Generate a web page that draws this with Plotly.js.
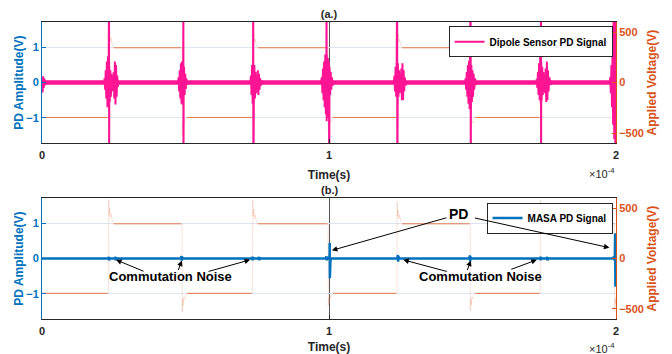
<!DOCTYPE html>
<html>
<head>
<meta charset="utf-8">
<script src="https://cdn.plot.ly/plotly-3.0.1.min.js"></script>
<style>html,body{margin:0;padding:0;background:#fff;}#chart{width:672px;height:354px;}</style>
</head>
<body>
<div id="chart"></div>
<script>
// ---------- DATA (time in units of 1e-4 s) ----------
// Applied voltage, steady levels (V), null = break at the switching edge
const voltT = [0, 0.229, null, 0.25, 0.485, null, 0.505, 0.731, null, 0.752, 0.994, null, 1.014, 1.234, null, 1.255, 1.489, null, 1.509, 1.733, null, 1.754, 1.992];
const voltV = [-345, -345, null, 345, 345, null, -345, -345, null, 345, 345, null, -345, -345, null, 345, 345, null, -345, -345, null, 345, 345];
// Applied voltage, switching edges with ringing (V)
const ringT = [0.229, 0.232, 0.2325, 0.234, 0.236, 0.238, 0.241, 0.245, 0.25, null,
               0.485, 0.488, 0.4885, 0.490, 0.492, 0.494, 0.497, 0.501, 0.505, null,
               0.731, 0.734, 0.7345, 0.736, 0.738, 0.740, 0.743, 0.747, 0.752, null,
               0.994, 0.997, 0.9975, 0.999, 1.001, 1.003, 1.006, 1.010, 1.014, null,
               1.234, 1.237, 1.2375, 1.239, 1.241, 1.243, 1.246, 1.250, 1.255, null,
               1.489, 1.492, 1.4925, 1.494, 1.496, 1.498, 1.501, 1.505, 1.509, null,
               1.733, 1.736, 1.7365, 1.738, 1.740, 1.742, 1.745, 1.749, 1.754, null,
               1.992, 1.995, 1.9955, 1.997, 1.999, 2.0];
const ringV = [-345, -345, 585, 430, 500, 410, 440, 370, 345, null,
               345, 345, -530, -400, -470, -380, -400, -360, -345, null,
               -345, -345, 580, 420, 490, 400, 430, 365, 345, null,
               345, 345, -470, -390, -440, -370, -390, -355, -345, null,
               -345, -345, 560, 420, 480, 400, 430, 370, 345, null,
               345, 345, -520, -400, -460, -380, -395, -360, -345, null,
               -345, -345, 575, 425, 495, 405, 435, 368, 345, null,
               345, 345, -500, -400, -450, -380];

// Dipole sensor PD signal (V): baseline band and discharge bursts
const dipoleBaseT = [0, 2];
const dipoleBaseV = [0, 0];
const dipoleT = [0, 0.002, 0.004, 0.006, 0.008, 0.010, 0.013, 0.016,
  0.216,0.218,0.220,0.222,0.224,0.226,0.228,0.230,0.232,0.2335,0.234,0.2345,0.236,0.238,0.240,0.242,0.244,0.246,0.248,0.250,0.252,0.254,0.256,0.258,0.260,0.262,0.264,0.266,
  0.474,0.476,0.478,0.480,0.482,0.484,0.486,0.488,0.490,0.492,0.4925,0.493,0.4935,0.495,0.497,0.499,0.501,0.503,0.505,0.508,
  0.726,0.728,0.730,0.732,0.734,0.7355,0.736,0.7365,0.738,0.740,0.742,0.744,0.746,0.748,0.750,0.752,0.754,0.756,0.758,0.760,0.763,0.767,0.771,
  0.972,0.975,0.977,0.979,0.981,0.983,0.985,0.987,0.989,0.991,0.9915,0.992,0.9925,0.994,0.996,0.998,1.000,1.0005,1.002,1.004,1.006,1.008,1.010,1.013,1.016,
  1.226,1.228,1.230,1.232,1.234,1.236,1.2375,1.238,1.2385,1.240,1.242,1.244,1.246,1.248,1.250,1.252,1.254,1.256,1.258,1.260,1.262,1.264,1.267,1.271,
  1.474,1.476,1.478,1.480,1.482,1.484,1.486,1.488,1.490,1.492,1.4935,1.494,1.4945,1.496,1.498,1.500,1.502,1.504,1.506,1.509,1.512,1.516,
  1.722,1.724,1.726,1.728,1.730,1.732,1.734,1.736,1.738,1.7385,1.739,1.7395,1.741,1.743,1.745,1.747,1.749,1.751,1.753,1.755,1.757,1.759,1.761,1.763,1.765,1.768,1.772,1.777,
  1.978,1.980,1.982,1.984,1.986,1.988,1.990,1.992,1.994,1.996,1.998,2.000];
const dipoleV = [0.05, -0.28, 0.18, -0.15, 0.12, -0.08, 0.05, 0,
  0,0.12,-0.2,0.35,-0.45,0.6,-0.7,0.75,-0.65,3,-3,0.45,-0.55,0.35,-0.4,0.25,-0.25,0.15,-0.2,0.3,-0.45,0.6,-0.62,0.5,-0.4,0.2,-0.12,0,
  0,0.15,-0.25,0.35,-0.45,0.55,-0.6,0.6,-0.63,0.55,3,-3,-0.5,0.45,-0.35,0.25,-0.18,0.12,-0.06,0,
  0,0.2,-0.35,0.5,-0.6,0.64,3,-3,-0.68,0.5,-0.45,0.3,-0.3,0.2,-0.25,0.35,-0.35,0.25,-0.2,0.12,-0.08,0.05,0,
  0,0.15,-0.3,0.4,-0.5,0.6,-0.7,0.8,-0.9,0.88,3,-1.1,0.8,-1.0,0.7,-0.9,0.6,-3,0.45,-0.35,0.3,-0.2,0.15,-0.08,0,
  0,0.2,-0.25,0.45,-0.4,0.7,3,-3,-0.49,0.55,-0.4,0.35,-0.3,0.2,-0.25,0.4,-0.5,0.55,-0.5,0.35,-0.25,0.15,-0.08,0,
  0,0.12,-0.2,0.3,-0.4,0.5,-0.6,0.62,-0.75,0.64,3,-3,-0.87,0.5,-0.55,0.35,-0.4,0.25,-0.2,0.12,-0.06,0,
  0,0.1,-0.15,0.3,-0.35,0.55,-0.5,0.83,-0.58,3,-3,0.6,-0.5,0.45,-0.35,0.3,-0.25,0.2,-0.3,0.4,-0.55,0.6,-0.5,0.35,-0.25,0.15,-0.06,0,
  0,0.15,-0.3,0.5,-0.7,1.0,-1.2,3,-1.6,3,-3,3];

// MASA PD signal (V)
const masaT = [0,
  0.232,0.233,0.234,0.235,0.236, 0.255,0.256,0.257,0.258,0.259,
  0.484,0.486,0.487,0.488,0.490,
  0.731,0.733,0.734,0.735,0.737, 0.755,0.756,0.757,0.758,0.759,
  0.989,0.991,0.992,0.993,0.995,
  1.000,1.002,1.0025,1.003,1.0035,1.005,1.007,
  1.238,1.240,1.241,1.242,1.244,
  1.489,1.491,1.492,1.493,1.495,
  1.735,1.737,1.738,1.739,1.741, 1.759,1.760,1.761,1.762,1.763,
  1.990,1.992,1.994,1.996,1.997,1.998,1.999,2.0];
const masaV = [0,
  0,0.05,-0.05,0.05,0, 0,0.05,-0.05,0.04,0,
  0,0.07,-0.06,0.05,0,
  0,0.05,-0.05,0.04,0, 0,0.05,-0.05,0.04,0,
  0,0.06,-0.05,0.05,0,
  0,0.08,0.44,-0.56,0.3,-0.06,0,
  0,0.1,-0.09,0.06,0,
  0,0.09,-0.08,0.05,0,
  0,0.05,-0.05,0.04,0, 0,0.05,-0.05,0.04,0,
  0,0.06,-0.05,0.1,0.72,-0.8,0.5,0];

const xTicks = [0, 1, 2];
const xTickText = ['0', '1', '2'];
const pdTicks = [-1, 0, 1];
const voltTicks = [-500, 0, 500];

// ---------- STYLE ----------
const FONT = 'Liberation Sans, Arial, Helvetica, sans-serif';
const BLUE = '#0072BD', ORANGE = '#D95319', PINK = '#FF1493', DARK = '#262626';
const VOLT_LINE = '#E4784A', VOLT_RING = 'rgba(226,120,80,0.22)';

const traces = [
  {x: voltT, y: voltV, xaxis: 'x', yaxis: 'y', mode: 'lines', line: {color: VOLT_LINE, width: 1}, showlegend: false, hoverinfo: 'skip', connectgaps: false},
  {x: ringT, y: ringV, xaxis: 'x', yaxis: 'y', mode: 'lines', line: {color: VOLT_RING, width: 1}, showlegend: false, hoverinfo: 'skip', connectgaps: false},
  {x: dipoleBaseT, y: dipoleBaseV, xaxis: 'x', yaxis: 'y2', mode: 'lines', line: {color: PINK, width: 4.5}, showlegend: false, hoverinfo: 'skip'},
  {x: dipoleT, y: dipoleV, xaxis: 'x', yaxis: 'y2', mode: 'lines', line: {color: PINK, width: 2}, name: 'Dipole Sensor PD Signal', legend: 'legend'},
  {x: voltT, y: voltV, xaxis: 'x2', yaxis: 'y3', mode: 'lines', line: {color: VOLT_LINE, width: 1}, showlegend: false, hoverinfo: 'skip', connectgaps: false},
  {x: ringT, y: ringV, xaxis: 'x2', yaxis: 'y3', mode: 'lines', line: {color: VOLT_RING, width: 1}, showlegend: false, hoverinfo: 'skip', connectgaps: false},
  {x: masaT, y: masaV, xaxis: 'x2', yaxis: 'y4', mode: 'lines', line: {color: BLUE, width: 2.5}, name: 'MASA PD Signal', legend: 'legend2'}
];

function xAxis(anchor) {
  return {
    domain: [0, 1], anchor: anchor, range: [0, 2], tickvals: xTicks, ticktext: xTickText,
    ticks: 'inside', ticklen: 4, tickcolor: DARK, showline: true, mirror: true, linecolor: DARK, linewidth: 1,
    showgrid: true, gridcolor: '#555555', gridwidth: 1, zeroline: false, ticklabelstandoff: 2,
    tickfont: {family: FONT, size: 11, color: DARK, weight: 'bold'},
    title: {text: 'Time(s)', standoff: 10, font: {family: FONT, size: 12, color: DARK, weight: 'bold'}},
    fixedrange: true
  };
}
function voltAxis(anchor, domain) {
  return {
    domain: domain, anchor: anchor, side: 'right', range: [-600, 600], tickvals: voltTicks,
    ticks: 'inside', ticklen: 4, tickcolor: ORANGE, showline: true, linecolor: ORANGE, linewidth: 1,
    showgrid: false, zeroline: false,
    tickfont: {family: FONT, size: 11, color: ORANGE, weight: 'bold'},
    title: {text: 'Applied Voltage(V)', standoff: 4, font: {family: FONT, size: 12, color: ORANGE, weight: 'bold'}},
    fixedrange: true
  };
}
function pdAxis(anchor, over) {
  return {
    overlaying: over, anchor: anchor, side: 'left', range: [-1.72, 1.72], tickvals: pdTicks,
    ticks: 'inside', ticklen: 4, tickcolor: BLUE, showline: true, linecolor: BLUE, linewidth: 1,
    showgrid: true, gridcolor: '#DCE6F0', gridwidth: 1, zeroline: false,
    tickfont: {family: FONT, size: 11, color: BLUE, weight: 'bold'},
    title: {text: 'PD Amplitude(V)', standoff: 0, font: {family: FONT, size: 12, color: BLUE, weight: 'bold'}},
    fixedrange: true
  };
}

const legendBase = {
  xref: 'paper', yref: 'paper', xanchor: 'right', yanchor: 'top',
  bgcolor: '#ffffff', bordercolor: DARK, borderwidth: 1,
  font: {family: FONT, size: 10, color: '#000', weight: 'bold'},
  itemwidth: 30, tracegroupgap: 0
};

const arrowStyle = {showarrow: true, arrowhead: 2, arrowsize: 1.1, arrowwidth: 1, arrowcolor: '#000', standoff: 0, text: '', xref: 'x2', yref: 'y4', axref: 'pixel', ayref: 'pixel'};
const labelFont = {family: FONT, size: 13, color: '#000', weight: 'bold'};

const layout = {
  width: 672, height: 354,
  margin: {l: 42, r: 56, t: 22, b: 35},
  paper_bgcolor: '#ffffff', plot_bgcolor: '#ffffff',
  font: {family: FONT, color: DARK},
  title: {text: '(a.)', x: 0.5, xref: 'paper', xanchor: 'center', y: 0.9605, yref: 'container', yanchor: 'middle',
          font: {family: FONT, size: 11, color: DARK, weight: 'bold'}},
  xaxis: xAxis('y'),
  yaxis: voltAxis('x', [0.592, 1]),
  yaxis2: pdAxis('x', 'y'),
  xaxis2: xAxis('y3'),
  yaxis3: voltAxis('x2', [0, 0.407]),
  yaxis4: pdAxis('x2', 'y3'),
  legend: Object.assign({x: 0.994, y: 0.986}, legendBase),
  legend2: Object.assign({x: 0.994, y: 0.392}, legendBase),
  annotations: [
    {text: '(b.)', xref: 'paper', yref: 'paper', x: 0.5, y: 0.4354, xanchor: 'center', yanchor: 'middle', showarrow: false,
     font: {family: FONT, size: 11, color: DARK, weight: 'bold'}},
    {text: '×10<sup>-4</sup>', xref: 'paper', yref: 'paper', x: 1.002, y: 0.4916, xanchor: 'right', yanchor: 'middle', showarrow: false,
     font: {family: FONT, size: 11, color: DARK}},
    {text: '×10<sup>-4</sup>', xref: 'paper', yref: 'paper', x: 1.002, y: -0.0976, xanchor: 'right', yanchor: 'middle', showarrow: false,
     font: {family: FONT, size: 11, color: DARK}},
    {text: 'PD', xref: 'x2', yref: 'y4', x: 1.452, y: 1.26, xanchor: 'center', yanchor: 'middle', showarrow: false, font: {family: FONT, size: 14, color: '#000', weight: 'bold'}},
    Object.assign({x: 1.010, y: 0.233, ax: 116, ay: -33}, arrowStyle),
    Object.assign({x: 1.977, y: 0.31, ax: -136, ay: -30}, arrowStyle),
    {text: 'Commutation Noise', xref: 'x2', yref: 'y4', x: 0.449, y: -0.511, xanchor: 'center', yanchor: 'middle', showarrow: false, font: labelFont},
    Object.assign({x: 0.258, y: -0.037, ax: 29, ay: 12}, arrowStyle),
    Object.assign({x: 0.487, y: -0.057, ax: -4, ay: 11}, arrowStyle),
    Object.assign({x: 0.725, y: -0.037, ax: -43, ay: 12}, arrowStyle),
    {text: 'Commutation Noise', xref: 'x2', yref: 'y4', x: 1.529, y: -0.511, xanchor: 'center', yanchor: 'middle', showarrow: false, font: labelFont},
    Object.assign({x: 1.259, y: -0.037, ax: 45, ay: 12}, arrowStyle),
    Object.assign({x: 1.494, y: -0.057, ax: -4, ay: 11}, arrowStyle),
    Object.assign({x: 1.724, y: -0.037, ax: -27, ay: 10}, arrowStyle)
  ]
};

Plotly.newPlot('chart', traces, layout, {displayModeBar: false, staticPlot: true});
</script>
</body>
</html>
